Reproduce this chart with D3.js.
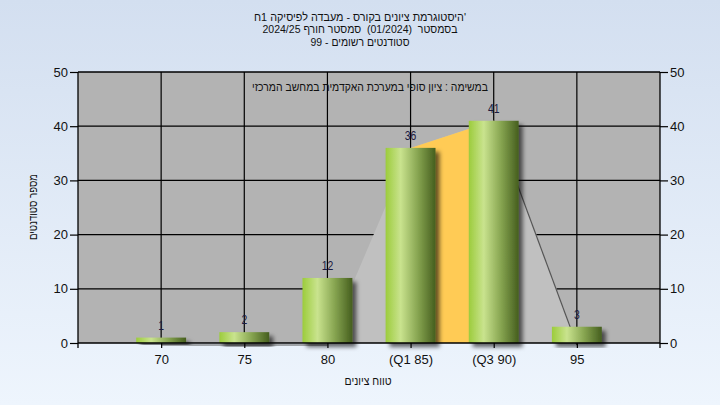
<!DOCTYPE html>
<html>
<head>
<meta charset="utf-8">
<script src="https://cdn.jsdelivr.net/npm/d3@7"></script>
<style>
html,body{margin:0;padding:0;}
svg{display:block;}
text{font-family:"Liberation Sans",Arial,"DejaVu Sans",sans-serif;}
.pre{white-space:pre;}
</style>
</head>
<body>
<svg id="chart" width="720" height="405"></svg>
<script>
// ---- data ----
const categories = ["70", "75", "80", "(Q1 85)", "(Q3 90)", "95"];
const counts = [1, 2, 12, 36, 41, 3];
const areaValues = [0, 0, 0, 36, 41, 0];
const quartileFrom = "(Q1 85)";
const quartileTo = "(Q3 90)";
const yTicks = [0, 10, 20, 30, 40, 50];
const titleLines = [
  "'היסטוגרמת ציונים בקורס - מעבדה לפיסיקה 1ח",
  "בסמסטר  (01/2024)  סמסטר חורף 2024/25",
  "סטודנטים רשומים - 99"
];
const innerTitle = "במשימה : ציון סופי במערכת האקדמית במחשב המרכזי";
const xTitle = "טווח ציונים";
const yTitle = "מספר סטודנטים";

// ---- layout ----
const W = 720, H = 405;
const L = 78, R = 660, T = 72, B = 343;
const svg = d3.select("#chart");
const defs = svg.append("defs");

const bg = defs.append("linearGradient").attr("id", "bg").attr("x1", 0).attr("y1", 0).attr("x2", 0).attr("y2", 1);
bg.append("stop").attr("offset", "0%").attr("stop-color", "#d3dff0");
bg.append("stop").attr("offset", "100%").attr("stop-color", "#eef5fd");

const bar = defs.append("linearGradient").attr("id", "bar").attr("x1", 0).attr("y1", 0).attr("x2", 1).attr("y2", 0);
bar.append("stop").attr("offset", "0%").attr("stop-color", "#9ccc3c");
bar.append("stop").attr("offset", "30%").attr("stop-color", "#c9e38e");
bar.append("stop").attr("offset", "65%").attr("stop-color", "#86a450");
bar.append("stop").attr("offset", "100%").attr("stop-color", "#455e1e");

const sh = defs.append("filter").attr("id", "shadow").attr("x", "-20%").attr("y", "-20%").attr("width", "150%").attr("height", "150%");
sh.append("feDropShadow").attr("dx", 4).attr("dy", 4).attr("stdDeviation", 2)
  .attr("flood-color", "#000").attr("flood-opacity", 0.6);

svg.append("rect").attr("width", W).attr("height", H).attr("fill", "url(#bg)");

const x = d3.scalePoint().domain(categories).range([L, R]).padding(1);
const y = d3.scaleLinear().domain([0, 50]).range([B, T]);
const bw = x.step() * 0.6;

svg.append("rect").attr("x", L).attr("y", T).attr("width", R - L).attr("height", B - T).attr("fill", "#b3b3b3");

const grid = svg.append("g").attr("stroke", "#000").attr("stroke-width", 1.2);
grid.selectAll("line.h").data(yTicks.filter(v => v > 0 && v < 50)).join("line")
  .attr("x1", L).attr("x2", R).attr("y1", d => y(d)).attr("y2", d => y(d));
grid.selectAll("line.v").data(categories).join("line")
  .attr("x1", d => x(d)).attr("x2", d => x(d)).attr("y1", T).attr("y2", B);

const pts = categories.map((c, i) => ({c, v: areaValues[i]}));
const area = d3.area().x(d => x(d.c)).y0(B).y1(d => y(d.v));
svg.append("path").datum(pts).attr("d", area).attr("fill", "#c0c0c0");
const qi0 = categories.indexOf(quartileFrom), qi1 = categories.indexOf(quartileTo);
svg.append("path").datum(pts.slice(qi0, qi1 + 1)).attr("d", area).attr("fill", "#ffcb55");
const segs = d3.pairs(pts).filter(([a, b]) => b.v <= a.v);
svg.append("g").selectAll("line").data(segs).join("line")
  .attr("x1", d => x(d[0].c)).attr("y1", d => y(d[0].v) + (d[0].v === 0 ? 2 : 0))
  .attr("x2", d => x(d[1].c)).attr("y2", d => y(d[1].v) + (d[1].v === 0 ? 2 : 0))
  .attr("stroke", "#555").attr("stroke-width", 1.2);

svg.append("g").selectAll("rect").data(categories).join("rect")
  .attr("x", d => x(d) - bw / 2).attr("width", bw)
  .attr("y", (d, i) => y(counts[i])).attr("height", (d, i) => B - y(counts[i]))
  .attr("fill", "url(#bar)").attr("filter", "url(#shadow)");

svg.append("g").selectAll("text").data(categories).join("text")
  .attr("x", d => x(d)).attr("y", (d, i) => y(counts[i]) - 8)
  .attr("text-anchor", "middle").attr("font-size", 13).attr("fill", "#1a1a40")
  .attr("textLength", (d, i) => String(counts[i]).length * 5.8).attr("lengthAdjust", "spacingAndGlyphs")
  .text((d, i) => counts[i]);

const yl = svg.append("g").attr("transform", `translate(${L},0)`)
  .call(d3.axisLeft(y).tickValues(yTicks).tickSize(8).tickPadding(2).tickFormat(d3.format("d")));
const yr = svg.append("g").attr("transform", `translate(${R},0)`)
  .call(d3.axisRight(y).tickValues(yTicks).tickSize(8).tickPadding(2).tickFormat(d3.format("d")));
const xb = svg.append("g").attr("transform", `translate(0,${B})`)
  .call(d3.axisBottom(x).tickSize(5).tickPadding(7));
[yl, yr, xb].forEach(g => {
  g.select(".domain").remove();
  g.selectAll("line").attr("stroke", "#000").attr("stroke-width", 1.2);
  g.selectAll("text").attr("font-size", 13).attr("fill", "#111").attr("font-family", '"Liberation Sans",Arial,sans-serif');
});
const frame = svg.append("g").attr("stroke", "#000").attr("stroke-width", 1.3).attr("fill", "none");
frame.append("line").attr("x1", L).attr("x2", R).attr("y1", T).attr("y2", T);
frame.append("line").attr("x1", L).attr("x2", R).attr("y1", B).attr("y2", B);
frame.append("line").attr("x1", L).attr("x2", L).attr("y1", T).attr("y2", B + 5);
frame.append("line").attr("x1", R).attr("x2", R).attr("y1", T).attr("y2", B + 5);

// titles
const titleWidths = [212, 195, 99];
svg.append("g").selectAll("text").data(titleLines).join("text")
  .attr("class", "pre")
  .attr("x", 360).attr("y", (d, i) => 20.5 + i * 12.5)
  .attr("text-anchor", "middle").attr("direction", "rtl").attr("font-size", 11).attr("fill", "#111")
  .attr("textLength", (d, i) => titleWidths[i]).attr("lengthAdjust", "spacingAndGlyphs")
  .text(d => d);
svg.append("text").attr("x", 370).attr("y", 91).attr("text-anchor", "middle").attr("direction", "rtl")
  .attr("font-size", 12).attr("fill", "#111").attr("textLength", 236).attr("lengthAdjust", "spacingAndGlyphs").text(innerTitle);
svg.append("text").attr("x", 368).attr("y", 385).attr("text-anchor", "middle").attr("direction", "rtl")
  .attr("font-size", 12).attr("fill", "#111").attr("textLength", 47).attr("lengthAdjust", "spacingAndGlyphs").text(xTitle);
svg.append("text").attr("transform", "translate(37,207) rotate(-90)").attr("text-anchor", "middle").attr("direction", "rtl")
  .attr("font-size", 12).attr("fill", "#111").attr("textLength", 66).attr("lengthAdjust", "spacingAndGlyphs").text(yTitle);
</script>
</body>
</html>
